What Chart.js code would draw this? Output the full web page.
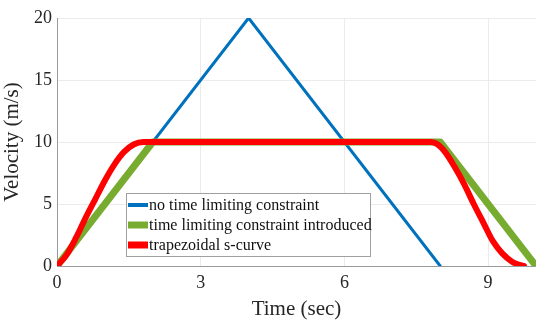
<!DOCTYPE html>
<html>
<head>
<meta charset="utf-8">
<script src="https://cdn.jsdelivr.net/npm/chart.js@4"></script>
<style>
  html, body { margin: 0; padding: 0; background: #fff; }
  #wrap { width: 536px; height: 326px; position: relative; }
</style>
</head>
<body>
<div id="wrap"><canvas id="velocity-chart" width="536" height="326"></canvas></div>
<script>
// Series data
const blueTime = [0, 4, 8];
const blueVel = [0, 20, 0];

const greenTime = [0, 2, 8, 10];
const greenVel = [0, 10, 10, 0];

const redTime = [0, 0.2, 0.4, 0.6, 0.8, 1.0, 1.2, 1.4, 1.6, 1.8, 7.8, 7.95, 8.1, 8.3, 8.5, 8.7, 8.9, 9.1, 9.3, 9.5, 9.65, 9.75];
const redVel = [0, 0.9, 2.3, 3.9, 5.4, 6.9, 8.2, 9.2, 9.8, 10, 10, 9.8, 9.2, 8.0, 6.6, 5.0, 3.5, 2.0, 1.0, 0.35, 0.1, 0];

const xTicks = [0, 3, 6, 9];
const yTicks = [0, 5, 10, 15, 20];

const legendLabels = ['no time limiting constraint', 'time limiting constraint introduced', 'trapezoidal s-curve'];

function toPoints(xs, ys) {
    return xs.map((x, i) => ({ x: x, y: ys[i] }));
}

const serif = '"Liberation Serif", "Times New Roman", serif';

// Legend box drawn inside the plot like the MATLAB figure
const boxLegend = {
    id: 'boxLegend',
    afterDraw(chart) {
        const ctx = chart.ctx;
        const x0 = 126, y0 = 193, w = 244, h = 63;
        ctx.save();
        ctx.fillStyle = '#fff';
        ctx.fillRect(x0, y0, w, h);
        ctx.strokeStyle = '#a0a0a0';
        ctx.lineWidth = 1;
        ctx.strokeRect(x0 + 0.5, y0 + 0.5, w, h);
        ctx.font = '16px ' + serif;
        ctx.textBaseline = 'middle';
        const rows = [205, 225, 245];
        chart.data.datasets.forEach((ds, i) => {
            ctx.strokeStyle = ds.borderColor;
            ctx.lineWidth = i === 0 ? 4 : 7;
            ctx.beginPath();
            ctx.moveTo(128, rows[i]);
            ctx.lineTo(148, rows[i]);
            ctx.stroke();
            ctx.fillStyle = '#111';
            ctx.fillText(ds.label, 149, rows[i] + 1);
        });
        ctx.restore();
    }
};

const ctx = document.getElementById('velocity-chart').getContext('2d');
const velocityChart = new Chart(ctx, {
    type: 'scatter',
    data: {
        datasets: [{
            label: legendLabels[0],
            data: toPoints(blueTime, blueVel),
            borderColor: '#0072BD',
            borderWidth: 3,
            order: 2
        }, {
            label: legendLabels[1],
            data: toPoints(greenTime, greenVel),
            borderColor: '#77AC30',
            borderWidth: 7,
            order: 1
        }, {
            label: legendLabels[2],
            data: toPoints(redTime, redVel),
            borderColor: '#FF0000',
            borderWidth: 6,
            cubicInterpolationMode: 'monotone',
            order: 0
        }]
    },
    options: {
        responsive: false,
        animation: false,
        showLine: true,
        elements: {
            point: { radius: 0 },
            line: { borderCapStyle: 'round', borderJoinStyle: 'round' }
        },
        layout: { padding: { top: 18, right: 0, left: 0, bottom: 0 } },
        plugins: {
            legend: { display: false },
            tooltip: { enabled: false }
        },
        scales: {
            x: {
                type: 'linear',
                min: 0,
                max: 10,
                afterBuildTicks: function(scale) {
                    scale.ticks = xTicks.map(v => ({ value: v }));
                },
                afterFit: function(scale) { scale.height = 60; },
                grid: { color: '#ebebeb', drawTicks: false },
                border: { color: '#9a9a9a' },
                ticks: {
                    padding: 6,
                    maxRotation: 0,
                    color: '#262626',
                    font: { family: serif, size: 18 }
                },
                title: {
                    display: true,
                    text: 'Time (sec)',
                    color: '#262626',
                    padding: { top: 0, bottom: 4 },
                    font: { family: serif, size: 21 }
                }
            },
            y: {
                min: 0,
                max: 20,
                afterBuildTicks: function(scale) {
                    scale.ticks = yTicks.map(v => ({ value: v }));
                },
                afterFit: function(scale) { scale.width = 57; },
                grid: { color: '#ebebeb', drawTicks: false },
                border: { color: '#9a9a9a' },
                ticks: {
                    padding: 5,
                    color: '#262626',
                    font: { family: serif, size: 18 }
                },
                title: {
                    display: true,
                    text: 'Velocity (m/s)',
                    color: '#262626',
                    padding: { top: 0, bottom: 0 },
                    font: { family: serif, size: 21 }
                }
            }
        }
    },
    plugins: [boxLegend]
});
</script>
</body>
</html>
